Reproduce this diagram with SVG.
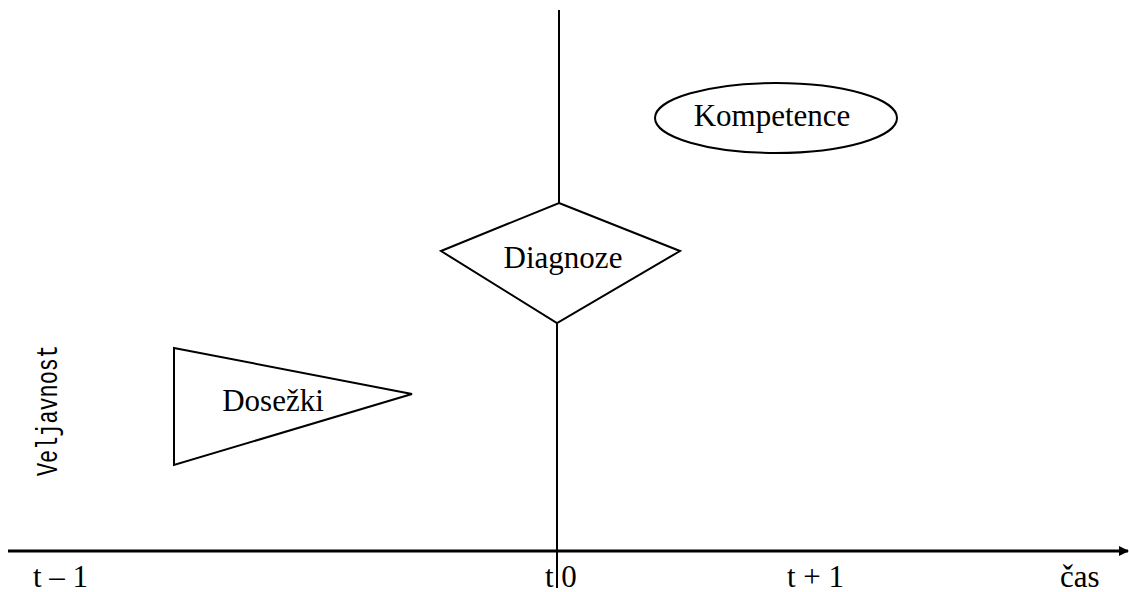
<svg xmlns="http://www.w3.org/2000/svg" width="1129" height="592" viewBox="0 0 1129 592">
<style>
.s{fill:#fff;stroke:#000;stroke-width:2}
.l{stroke:#000;stroke-width:2;fill:none}
.t{font-family:"Liberation Serif",serif;font-size:31px;fill:#000}
</style>
<defs>
<marker id="ah" markerWidth="10" markerHeight="10" refX="9" refY="5" orient="auto" markerUnits="userSpaceOnUse">
<path d="M0,0 L10,5 L0,10 Z" fill="#000"/>
</marker>
</defs>
<rect width="1129" height="592" fill="#fff"/>
<g id="connectors">
<line class="l" x1="559" y1="10" x2="559" y2="204"/>
<line class="l" x1="557" y1="322" x2="557" y2="588"/>
<line class="l" x1="8" y1="551" x2="1128" y2="551" marker-end="url(#ah)" style="stroke-width:3"/>
</g>
<g id="diagnoze">
<polygon class="s" points="559,203 680,251 557,323 441,251"/>
<text class="t" x="563" y="268" text-anchor="middle">Diagnoze</text>
</g>
<g id="kompetence">
<ellipse class="s" cx="776" cy="118" rx="121" ry="35"/>
<text class="t" x="772" y="126" text-anchor="middle">Kompetence</text>
</g>
<g id="dosezki">
<polygon class="s" points="174,348 412,394 174,465"/>
<text class="t" x="273" y="411" text-anchor="middle">Dosežki</text>
</g>
<text font-family="Liberation Mono,monospace" font-size="30" transform="translate(57,476) rotate(-90)" textLength="131" lengthAdjust="spacingAndGlyphs">Veljavnost</text>
<text class="t" x="33" y="587">t – 1</text>
<text class="t" x="545" y="587">t 0</text>
<text class="t" x="787" y="587">t + 1</text>
<text class="t" x="1060" y="587">čas</text>
</svg>
